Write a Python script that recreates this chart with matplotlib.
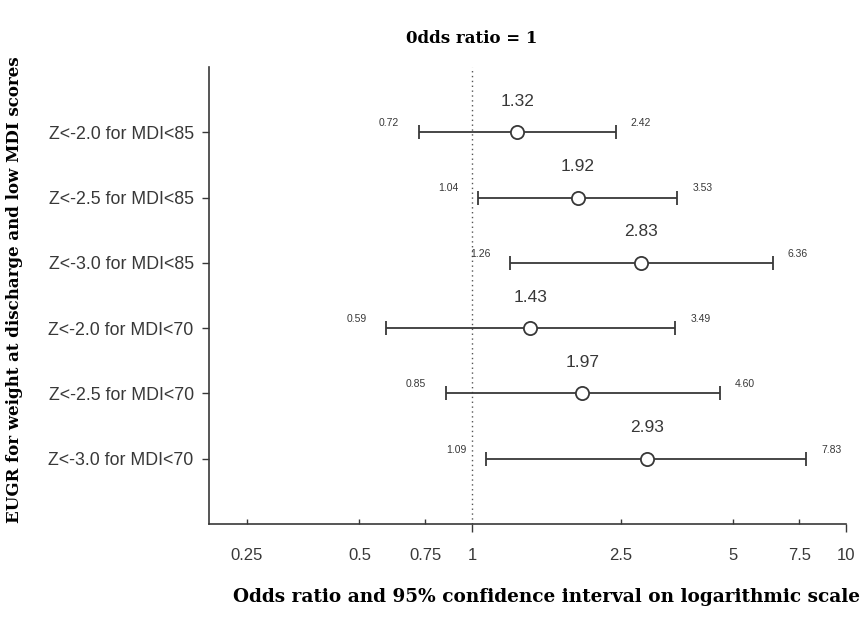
import matplotlib
matplotlib.use('Agg')
import matplotlib.pyplot as plt
from matplotlib.ticker import FixedLocator, FixedFormatter

# data
labels = ['Z<-2.0 for MDI<85', 'Z<-2.5 for MDI<85', 'Z<-3.0 for MDI<85',
          'Z<-2.0 for MDI<70', 'Z<-2.5 for MDI<70', 'Z<-3.0 for MDI<70']
odds = [1.32, 1.92, 2.83, 1.43, 1.97, 2.93]
lower = [0.72, 1.04, 1.26, 0.59, 0.85, 1.09]
upper = [2.42, 3.53, 6.36, 3.49, 4.60, 7.83]
major_ticks = [1, 10]
minor_ticks = [0.25, 0.5, 0.75, 2.5, 5, 7.5]

dark = '#383838'
serif = 'DejaVu Serif'
plt.rcParams['font.family'] = ['Liberation Sans', 'DejaVu Sans']

fig = plt.figure(figsize=(8.61, 6.28), dpi=100)
ax = fig.add_axes([0.2427, 0.1656, 0.7399, 0.7277])

n = len(labels)
ypos = [n - i for i in range(n)]

ax.axvline(1, color='#555555', linestyle=(0, (1, 2.5)), linewidth=1)

for y, o, lo, hi in zip(ypos, odds, lower, upper):
    ax.errorbar(o, y, xerr=[[o - lo], [hi - o]], fmt='o', markersize=9.5,
                markerfacecolor='white', markeredgecolor=dark, markeredgewidth=1.3,
                ecolor=dark, elinewidth=1.3, capsize=5, capthick=1.2, color=dark, zorder=3)
    ax.annotate(f'{o:.2f}', (o, y), xytext=(0, 17), textcoords='offset points',
                ha='center', va='bottom', fontsize=12.5, color=dark)
    ax.annotate(f'{lo:.2f}', (lo, y), xytext=(-14, 3), textcoords='offset points',
                ha='right', va='bottom', fontsize=7.5, color=dark)
    ax.annotate(f'{hi:.2f}', (hi, y), xytext=(11, 3), textcoords='offset points',
                ha='left', va='bottom', fontsize=7.5, color=dark)

ax.set_xscale('log')
ax.set_xlim(0.198, 10)
ax.set_ylim(0, n + 1)
ax.xaxis.set_major_locator(FixedLocator(major_ticks))
ax.xaxis.set_major_formatter(FixedFormatter([f'{t:g}' for t in major_ticks]))
ax.xaxis.set_minor_locator(FixedLocator(minor_ticks))
ax.xaxis.set_minor_formatter(FixedFormatter([f'{t:g}' for t in minor_ticks]))
ax.set_yticks(ypos)
ax.set_yticklabels(labels)

# 1 and 10 tick outward, the rest point inward
ax.tick_params(axis='x', which='major', direction='out', length=6, width=1,
               colors=dark, labelsize=12, pad=11)
ax.tick_params(axis='x', which='minor', direction='in', length=3.5, width=1,
               colors=dark, labelsize=12, pad=17)
ax.tick_params(axis='y', direction='out', length=5, width=1, colors=dark,
               labelsize=12.8, pad=6)

for s in ['top', 'right']:
    ax.spines[s].set_visible(False)
for s in ['left', 'bottom']:
    ax.spines[s].set_color(dark)
    ax.spines[s].set_linewidth(1.2)

ax.text(1, 1.063, '0dds ratio = 1', transform=ax.get_xaxis_transform(),
        ha='center', va='center', fontsize=12, fontweight='bold', family=serif)
fig.text(0.635, 0.0494, 'Odds ratio and 95% confidence interval on logarithmic scale',
         ha='center', va='center', fontsize=13.3, fontweight='bold', family=serif)
fig.text(0.0163, 0.538, 'EUGR for weight at discharge and low MDI scores',
         ha='center', va='center', rotation=90, fontsize=12, fontweight='bold', family=serif)

fig.savefig('out.png', dpi=100)
